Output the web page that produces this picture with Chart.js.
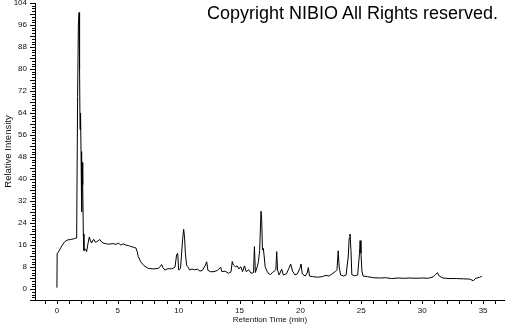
<!DOCTYPE html>
<html>
<head>
<meta charset="utf-8">
<script src="https://cdn.jsdelivr.net/npm/chart.js@4"></script>
<style>
  body { margin: 0; background: #fff; }
  #wrap { position: relative; width: 505px; height: 325px; }
  #copyright {
    position: absolute;
    left: 207px;
    top: 3px;
    font-family: "Liberation Sans", Arial, sans-serif;
    font-size: 18px;
    color: #000;
    white-space: nowrap;
  }
</style>
</head>
<body>
<div id="wrap">
  <canvas id="chart" width="505" height="325"></canvas>
  <div id="copyright">Copyright NIBIO All Rights reserved.</div>
</div>
<script>
// Retention time (min) and relative intensity
const retentionTime = [
  0.00, 0.02, 0.10, 0.25, 0.45, 0.65, 0.85, 1.10, 1.35, 1.55,
  1.62, 1.70, 1.76, 1.82, 1.86, 1.90, 1.94, 1.98, 2.03, 2.08,
  2.12, 2.17, 2.22, 2.35, 2.44, 2.55, 2.66, 2.75, 2.85, 2.95,
  3.04, 3.15, 3.26, 3.40, 3.53, 3.65, 3.81, 4.00, 4.22, 4.40,
  4.63, 4.85, 5.04, 5.25, 5.45, 5.65, 5.86, 6.05, 6.27, 6.49,
  6.60, 6.68, 6.88, 7.15, 7.50, 7.91, 8.32, 8.50, 8.60, 8.70,
  8.87, 9.05, 9.23, 9.40, 9.55, 9.70, 9.83, 9.92, 10.00, 10.15,
  10.33, 10.41, 10.48, 10.55, 10.65, 10.75, 10.90, 11.10, 11.30, 11.55,
  11.75, 11.95, 12.20, 12.30, 12.40, 12.60, 12.90, 13.20, 13.45, 13.55,
  13.80, 14.10, 14.30, 14.40, 14.50, 14.65, 14.80, 14.95, 15.10, 15.25,
  15.40, 15.55, 15.75, 15.95, 16.15, 16.22, 16.30, 16.45, 16.55, 16.65,
  16.76, 16.82, 16.88, 16.95, 17.02, 17.10, 17.25, 17.40, 17.55, 17.70,
  17.85, 17.98, 18.05, 18.12, 18.25, 18.46, 18.60, 18.85, 19.05, 19.20,
  19.35, 19.55, 19.75, 19.95, 20.05, 20.15, 20.40, 20.55, 20.65, 20.75,
  21.00, 21.40, 21.80, 22.10, 22.35, 22.60, 22.85, 23.00, 23.10, 23.18,
  23.30, 23.55, 23.75, 23.93, 24.00, 24.07, 24.15, 24.22, 24.45, 24.70,
  24.85, 24.90, 24.97, 25.05, 25.15, 25.50, 26.00, 26.50, 27.00, 27.50,
  28.00, 28.50, 29.00, 29.50, 30.00, 30.50, 30.90, 31.10, 31.25, 31.40,
  31.70, 32.20, 32.80, 33.40, 33.90, 34.20, 34.40, 34.70, 34.90
];
const intensity = [
  0.5, 13.0, 13.2, 14.5, 16.0, 17.2, 17.8, 18.0, 18.2, 18.5,
  18.5, 70.0, 96.0, 100.5, 80.0, 58.0, 64.0, 50.0, 28.0, 46.0,
  38.0, 20.0, 14.0, 14.5, 13.6, 16.5, 18.9, 17.5, 16.7, 17.8,
  18.0, 17.0, 17.2, 17.6, 18.0, 17.2, 16.7, 16.5, 16.3, 16.4,
  16.5, 16.2, 16.7, 16.0, 16.4, 16.0, 15.8, 15.5, 15.2, 14.9,
  13.5, 11.8, 9.9, 8.5, 7.5, 7.3, 7.5, 8.2, 8.9, 7.8,
  6.9, 7.3, 7.4, 7.3, 7.6, 8.0, 12.5, 13.0, 6.9, 7.5,
  18.4, 21.7, 19.0, 13.0, 8.7, 8.1, 6.9, 7.3, 7.0, 7.2,
  6.5, 6.8, 8.7, 9.9, 6.8, 6.3, 6.3, 6.8, 7.9, 6.3,
  6.5, 5.7, 6.3, 10.0, 8.7, 8.1, 8.4, 7.3, 8.1, 6.3,
  8.4, 6.3, 7.0, 5.7, 6.0, 15.4, 6.0, 8.1, 9.9, 14.0,
  28.3, 25.0, 14.2, 14.8, 12.0, 8.1, 6.5, 5.5, 5.3, 6.0,
  6.5, 7.0, 13.6, 6.9, 5.1, 7.2, 5.1, 5.5, 7.5, 9.1,
  6.5, 5.1, 5.5, 7.5, 9.1, 5.5, 4.7, 5.8, 7.8, 4.7,
  4.5, 4.3, 4.5, 5.0, 4.7, 5.5, 6.3, 7.0, 13.9, 8.0,
  5.1, 4.7, 5.1, 12.0, 18.4, 20.0, 14.0, 5.2, 4.8, 5.1,
  13.0, 17.6, 13.0, 6.5, 4.7, 4.5, 4.1, 4.0, 4.1, 3.8,
  4.0, 3.9, 4.0, 3.9, 4.0, 3.9, 4.4, 5.3, 5.9, 4.7,
  4.0, 3.8, 3.8, 3.7, 3.6, 3.0, 3.9, 4.2, 4.7
];

// Tick labels
const xTickLabels = [0, 5, 10, 15, 20, 25, 30, 35];
const yTickLabels = [0, 8, 16, 24, 32, 40, 48, 56, 64, 72, 80, 88, 96, 104];

const FONT = '"Liberation Sans", Arial, sans-serif';

// Draws the small outward tick marks (minor every 1, longer on y every 4)
const tickMarks = {
  id: 'tickMarks',
  afterDraw(chart) {
    const ctx = chart.ctx;
    const area = chart.chartArea;
    const xs = chart.scales.x;
    const ys = chart.scales.y;
    ctx.save();
    ctx.strokeStyle = '#000';
    ctx.lineWidth = 1;
    ctx.beginPath();
    for (const t of ys.ticks) {
      const py = Math.round(ys.getPixelForValue(t.value)) + 0.5;
      const len = t.value % 4 === 0 ? 5 : 3;
      ctx.moveTo(area.left, py);
      ctx.lineTo(area.left - len, py);
    }
    for (const t of xs.ticks) {
      if (!Number.isInteger(t.value)) continue;
      const px = Math.round(xs.getPixelForValue(t.value)) + 0.5;
      ctx.moveTo(px, area.bottom);
      ctx.lineTo(px, area.bottom + 4);
    }
    ctx.stroke();
    ctx.restore();
  }
};

const ctx = document.getElementById('chart').getContext('2d');

new Chart(ctx, {
  type: 'line',
  data: {
    datasets: [{
      data: retentionTime.map((t, i) => ({ x: t, y: intensity[i] })),
      borderColor: '#000',
      borderWidth: 1,
      pointRadius: 0,
      tension: 0,
      fill: false
    }]
  },
  options: {
    responsive: false,
    animation: false,
    layout: { padding: 0 },
    plugins: {
      legend: { display: false },
      tooltip: { enabled: false }
    },
    scales: {
      x: {
        type: 'linear',
        min: -1.8,
        max: 36.8,
        afterBuildTicks(scale) {
          const ticks = [];
          for (let v = -1; v <= 36; v++) ticks.push({ value: v });
          scale.ticks = ticks;
        },
        afterFit(scale) {
          scale.height = 25;
          scale.paddingLeft = 0;
          scale.paddingRight = 0;
        },
        ticks: {
          autoSkip: false,
          maxRotation: 0,
          padding: 6,
          color: '#111',
          font: { family: FONT, size: 8 },
          callback: (v) => xTickLabels.includes(v) ? String(v) : ''
        },
        grid: { display: false, drawTicks: false },
        border: { display: true, color: '#000', width: 1 },
        title: {
          display: true,
          text: 'Retention Time (min)',
          color: '#111',
          font: { family: FONT, size: 8 },
          padding: { top: 0, bottom: 0 }
        }
      },
      y: {
        min: -4,
        max: 104,
        afterBuildTicks(scale) {
          const ticks = [];
          for (let v = -4; v <= 104; v++) ticks.push({ value: v });
          scale.ticks = ticks;
        },
        afterFit(scale) {
          scale.width = 35;
          scale.paddingTop = 3;
          scale.paddingBottom = 0;
        },
        ticks: {
          autoSkip: false,
          padding: 8,
          color: '#111',
          font: { family: FONT, size: 8 },
          callback: (v) => yTickLabels.includes(v) ? String(v) : ''
        },
        grid: { display: false, drawTicks: false },
        border: { display: true, color: '#000', width: 1 },
        title: {
          display: true,
          text: 'Relative Intensity',
          color: '#111',
          font: { family: FONT, size: 9.5 },
          padding: { top: 3, bottom: 0 }
        }
      }
    }
  },
  plugins: [tickMarks]
});
</script>
</body>
</html>
